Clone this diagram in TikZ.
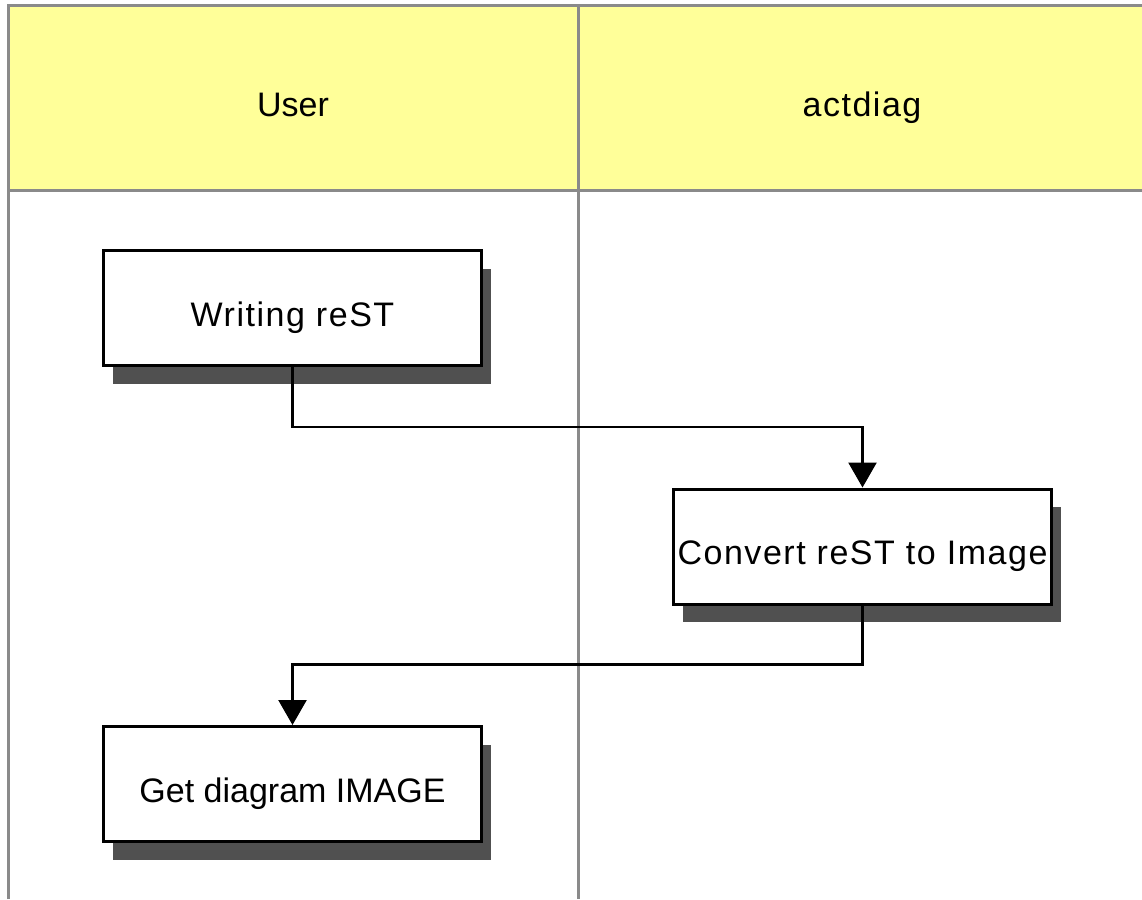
\documentclass[tikz,border=0pt]{standalone}
\usepackage{fontspec}
\setmainfont{Liberation Sans}
\newfontfamily\widefont[LetterSpace=4.5]{Liberation Sans}
\usetikzlibrary{arrows.meta,shadows}

\definecolor{laneline}{RGB}{138,138,138}
\definecolor{lanehead}{RGB}{255,255,153}
\definecolor{shadowgray}{RGB}{80,80,80}

\tikzset{
  lbl/.style={font=\fontsize{34}{40}\selectfont, text height=36pt, text depth=0pt, inner sep=0pt},
  act/.style={lbl, draw=black, line width=3pt, fill=white,
    minimum width=378pt, minimum height=115pt,
    drop shadow={shadow xshift=9pt, shadow yshift=-18pt, opacity=1, fill=shadowgray}},
  flow/.style={line width=2.5pt, -{Triangle[width=28pt,length=25pt]}}
}

\begin{document}
\begin{tikzpicture}[x=1pt, y=-1pt]
    \useasboundingbox (0,0) rectangle (1142,899);
    \fill[lanehead] (8,6) rectangle (1146,190);
    \draw[laneline, line width=3pt] (8,899) -- (8,6) -- (1146,6)
      (8,190) -- (1146,190)
      (578,6) -- (578,899)
      (1146,6) -- (1146,899);
    \node[lbl] (user) at (293,98) {User};
    \node[lbl] (actdiag) at (862,98) {\widefont actdiag};

    \node[act] (write) at (292.5,308) {\widefont Writing reST};
    \node[act] (convert) at (862.5,546.5) {\widefont Convert reST to Image};
    \node[act] (getimg) at (292.5,784) {Get diagram IMAGE};

    \draw[flow] (write.south) -- ++(0,60) -| (convert.north);
    \draw[flow] (convert.south) -- ++(0,59) -| (getimg.north);
  \end{tikzpicture}
\end{document}
